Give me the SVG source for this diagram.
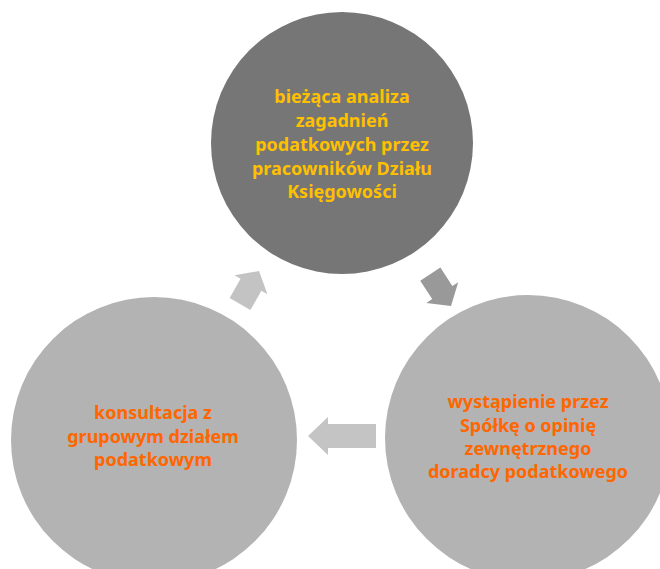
<svg xmlns="http://www.w3.org/2000/svg" width="660" height="569" viewBox="0 0 660 569">
<style>
.t{font-family:"Noto Sans","Liberation Sans",sans-serif;font-weight:bold;font-size:18px;text-anchor:middle}
.y{fill:#FFC000}
.o{fill:#FF6600}
</style>
<defs>
<path id="arrS" d="M0,0 L-16,-19 L-16,-12 L-38,-12 L-38,12 L-16,12 L-16,19 Z"/>
</defs>
<rect width="660" height="569" fill="#ffffff"/>
<g id="connectors">
<use href="#arrS" transform="translate(259,271) rotate(-60)" fill="#c3c3c3"/>
<use href="#arrS" transform="translate(451,306) rotate(57)" fill="#999999"/>
<path d="M308,436 L328,417 L328,424 L376,424 L376,448 L328,448 L328,455 Z" fill="#c4c4c4"/>
</g>
<g id="node-top">
<circle cx="342" cy="143" r="131" fill="#767676"/>
<text class="t y"><tspan x="342" y="103">bieżąca analiza</tspan><tspan x="342" y="127">zagadnień</tspan><tspan x="342" y="151">podatkowych przez</tspan><tspan x="342" y="175">pracowników Działu</tspan><tspan x="342" y="198">Księgowości</tspan></text>
</g>
<g id="node-right">
<circle cx="528" cy="438" r="143" fill="#b3b3b3"/>
<text class="t o"><tspan x="528" y="408">wystąpienie przez</tspan><tspan x="528" y="432">Spółkę o opinię</tspan><tspan x="528" y="455">zewnętrznego</tspan><tspan x="528" y="478">doradcy podatkowego</tspan></text>
</g>
<g id="node-left">
<circle cx="154" cy="440" r="143" fill="#b3b3b3"/>
<text class="t o"><tspan x="153" y="419">konsultacja z</tspan><tspan x="153" y="443">grupowym działem</tspan><tspan x="153" y="466">podatkowym</tspan></text>
</g>
</svg>
